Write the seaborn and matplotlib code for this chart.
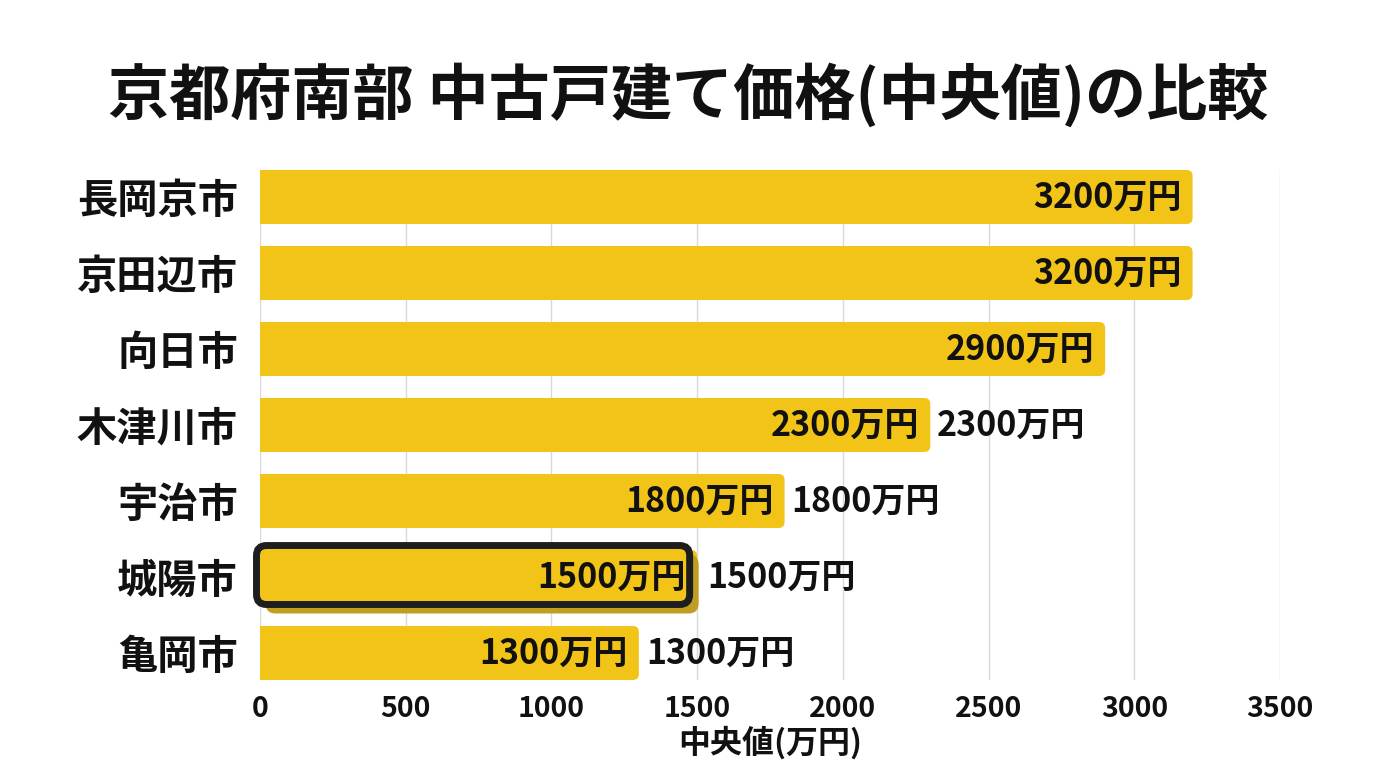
import pandas as pd
import matplotlib
matplotlib.use("Agg")
import matplotlib.pyplot as plt
import seaborn as sns
from matplotlib.patches import FancyBboxPatch, Rectangle

# Data
cities = ["長岡京市", "京田辺市", "向日市", "木津川市", "宇治市", "城陽市", "亀岡市"]
prices = [3200, 3200, 2900, 2300, 1800, 1500, 1300]
outside_label_cities = ["木津川市", "宇治市", "城陽市", "亀岡市"]
highlight_city = "城陽市"
xticks = [0, 500, 1000, 1500, 2000, 2500, 3000, 3500]

title = "京都府南部 中古戸建て価格(中央値)の比較"
xlabel = "中央値(万円)"

bar_color = "#F2C417"
shadow_color = "#C09E22"
text_color = "#111111"

sns.set_style("white")
plt.rcParams['font.family'] = ['Noto Sans CJK JP', 'DejaVu Sans']

W, H = 1376, 768
fig = plt.figure(figsize=(W / 100, H / 100), dpi=100)
ax = fig.add_axes([260 / W, 88 / H, 1020 / W, 510 / H])

df = pd.DataFrame({"city": cities, "price": prices})
sns.barplot(data=df, x="price", y="city", color=bar_color, saturation=1,
            width=0.71, ax=ax, zorder=2)

ax.set_xlim(0, 3500)
ax.set_ylim(6.355, -0.355)

# data units per pixel, used for rounding corners
ux = 3500 / 1020
uy = 6.71 / 510
aspect = uy / ux

# rounded right ends, square left ends
for p in list(ax.patches):
    x0, y0, w, h = p.get_x(), p.get_y(), p.get_width(), p.get_height()
    p.set_visible(False)
    ax.add_patch(FancyBboxPatch((x0, y0), w, h,
                                boxstyle=f"round,pad=0,rounding_size={6 * ux}",
                                mutation_aspect=aspect, fc=bar_color, ec="none", zorder=2))
    ax.add_patch(Rectangle((x0, y0), w / 2, h, fc=bar_color, ec="none", zorder=2))

# highlighted bar
hi = cities.index(highlight_city)
hv = prices[hi]
hx0, hx1 = -3.5 * ux, hv - 7.5 * ux
hy0, hy1 = hi - 0.355 - 4.5 * uy, hi + 0.355 + 0.5 * uy
ax.add_patch(FancyBboxPatch((hx0 + 9 * ux, hy0 + 9 * uy), hx1 - hx0, hy1 - hy0,
                            boxstyle=f"round,pad=0,rounding_size={10 * ux}",
                            mutation_aspect=aspect, fc=shadow_color, ec="none",
                            zorder=3, clip_on=False))
ax.add_patch(FancyBboxPatch((hx0, hy0), hx1 - hx0, hy1 - hy0,
                            boxstyle=f"round,pad=0,rounding_size={10 * ux}",
                            mutation_aspect=aspect, fc=bar_color, ec="#1E1E1E",
                            lw=5, zorder=4, clip_on=False))

# value labels
for i, (c, v) in enumerate(zip(cities, prices)):
    ax.annotate(f"{v}万円", (v, i), xytext=(-8, 0), textcoords="offset points",
                ha="right", va="center", fontsize=24.5, fontweight="bold",
                color=text_color, zorder=5)
    if c in outside_label_cities:
        off = 7 if c == highlight_city else 5
        ax.annotate(f"{v}万円", (v, i), xytext=(off, 0),
                    textcoords="offset points", ha="left", va="center",
                    fontsize=24.5, fontweight="semibold", color=text_color, zorder=5)

ax.set_xticks(xticks)
ax.set_xticklabels([str(t) for t in xticks], fontsize=20.5, fontweight="bold", color=text_color)
ax.tick_params(axis="x", length=0, pad=11)
ax.tick_params(axis="y", length=0, pad=16)
for lab in ax.get_yticklabels():
    lab.set_fontsize(29)
    lab.set_fontweight("bold")
    lab.set_color(text_color)

ax.set_ylabel("")
ax.set_xlabel(xlabel, fontsize=23, fontweight="bold", color=text_color, labelpad=2)

ax.grid(axis="x", color="#D9D9D9", lw=1, zorder=0)
ax.set_axisbelow(True)
sns.despine(ax=ax, left=True, bottom=True)

fig.text(0.5, 1 - 95 / H, title, ha="center", va="center",
         fontsize=44, fontweight="bold", color=text_color)

fig.savefig("out.png", dpi=100, facecolor="white")
